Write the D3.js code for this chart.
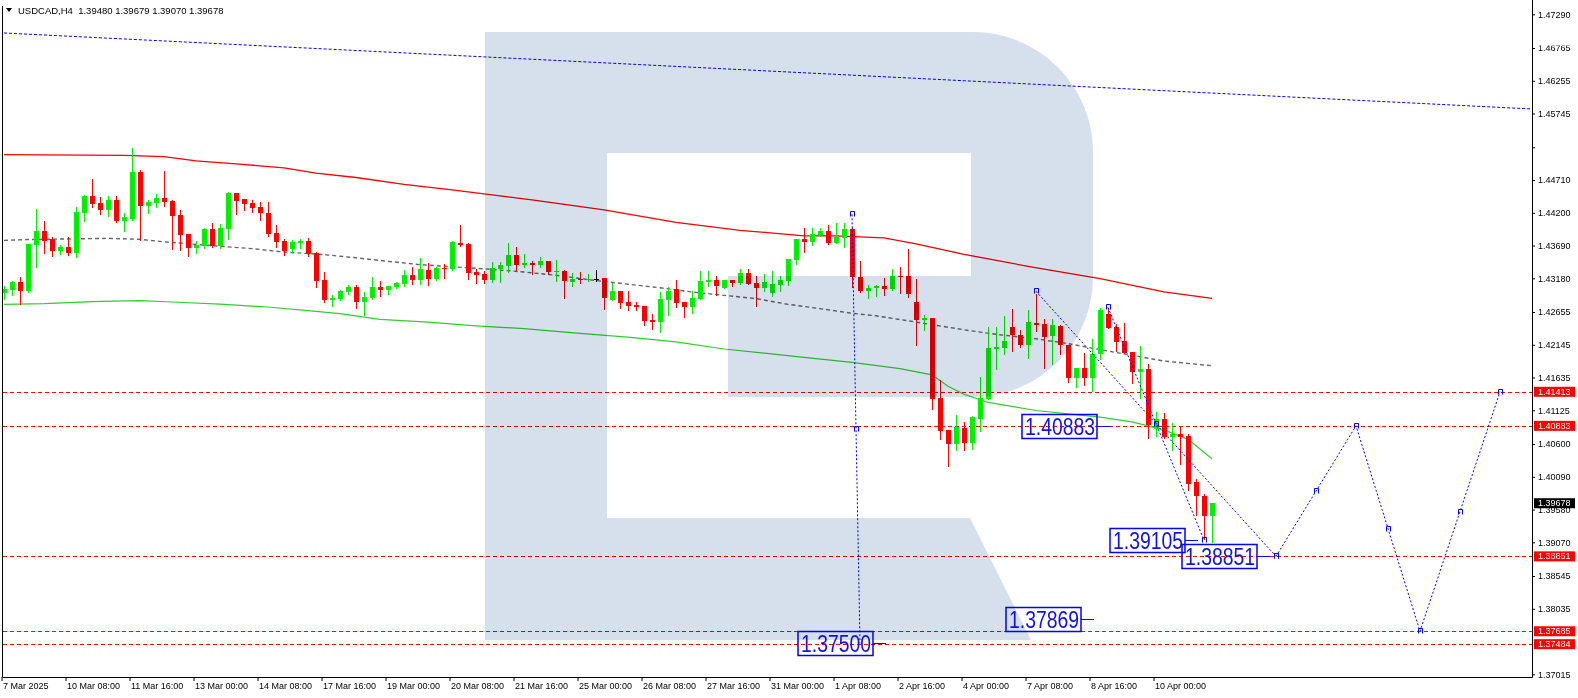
<!DOCTYPE html>
<html><head><meta charset="utf-8">
<script src="https://cdn.jsdelivr.net/npm/d3@7"></script>
<style>
html,body{margin:0;padding:0;background:#fff;overflow:hidden;}
svg{display:block;}
text{font-family:"Liberation Sans",Arial,sans-serif;}
</style></head><body>
<svg id="c" width="1578" height="698"></svg>
<script>
// ---------------- DATA ----------------
const symbolTitle = "USDCAD,H4";
const lastOHLC = [1.39480, 1.39679, 1.39070, 1.39678];

const opens = [1.42951,1.42993,1.43117,1.42977,1.43693,1.43911,1.43787,1.43605,1.43662,1.43574,
1.44197,1.44456,1.44347,1.44244,1.44394,1.44072,1.44098,1.44830,1.44306,1.44353,
1.44425,1.44384,1.44161,1.43865,1.43652,1.43683,1.43943,1.43683,1.43948,1.44503,
1.44410,1.44347,1.44285,1.44192,1.43880,1.43756,1.43636,1.43730,1.43756,1.43569,
1.43149,1.42842,1.42858,1.42962,1.43040,1.42806,1.42868,1.43040,1.42993,1.43040,
1.43086,1.43226,1.43149,1.43304,1.43164,1.43341,1.43325,1.43725,1.43709,1.43273,
1.43242,1.43148,1.43320,1.43377,1.43543,1.43382,1.43418,1.43382,1.43444,1.43278,
1.43294,1.43122,1.43174,1.43153,1.43169,1.43180,1.42842,1.42977,1.42806,1.42759,
1.42744,1.42526,1.42500,1.42837,1.43008,1.42806,1.42728,1.42853,1.43122,1.43148,
1.43029,1.43148,1.43107,1.43257,1.43102,1.43024,1.42946,1.43076,1.43133,1.43460,
1.43787,1.43745,1.43854,1.43911,1.43730,1.43813,1.43943,1.43195,1.42977,1.43034,
1.43055,1.43008,1.43211,1.43211,1.42811,1.42536,1.42562,1.41316,1.40813,1.40595,
1.40844,1.40621,1.40984,1.41296,1.42074,1.42095,1.42417,1.42292,1.42137,1.42490,
1.42463,1.42277,1.42432,1.42147,1.41628,1.41784,1.41628,1.42007,1.42629,1.42422,
1.42199,1.42027,1.41721,1.41763,1.40839,1.40995,1.40709,1.40761,1.40720,1.40008,
1.39785,1.39480];
const highs = [1.43055,1.43138,1.43195,1.43709,1.44254,1.44067,1.43818,1.43693,1.43818,1.44285,
1.44477,1.44721,1.44446,1.44456,1.44456,1.44192,1.45204,1.44861,1.44394,1.44498,
1.44846,1.44394,1.44238,1.43865,1.43756,1.43958,1.44036,1.44031,1.44524,1.44503,
1.44410,1.44394,1.44373,1.44363,1.44005,1.43787,1.43771,1.43787,1.43802,1.43585,
1.43273,1.42915,1.42993,1.43071,1.43071,1.42962,1.43195,1.43133,1.43055,1.43117,
1.43304,1.43351,1.43491,1.43413,1.43351,1.43398,1.43756,1.44005,1.43725,1.43320,
1.43289,1.43429,1.43434,1.43730,1.43662,1.43553,1.43444,1.43512,1.43444,1.43460,
1.43304,1.43263,1.43283,1.43242,1.43315,1.43180,1.43112,1.42977,1.42977,1.42806,
1.42744,1.42629,1.42962,1.43045,1.43148,1.42806,1.42977,1.43289,1.43289,1.43211,
1.43148,1.43148,1.43320,1.43320,1.43211,1.43242,1.43289,1.43211,1.43476,1.43797,
1.43958,1.43958,1.43958,1.44005,1.44036,1.44036,1.43958,1.43444,1.43071,1.43071,
1.43180,1.43320,1.43351,1.43642,1.43174,1.42604,1.42562,1.41592,1.40813,1.41047,
1.40943,1.41036,1.41643,1.42422,1.42422,1.42588,1.42697,1.42380,1.42681,1.42941,
1.42541,1.42541,1.42448,1.42147,1.41784,1.42017,1.42235,1.42718,1.42707,1.42474,
1.42484,1.42027,1.42121,1.41851,1.41099,1.41089,1.40932,1.40875,1.40761,1.40060,
1.39827,1.39679];
const lows = [1.42863,1.42920,1.42780,1.42967,1.43356,1.43574,1.43522,1.43553,1.43543,1.43512,
1.44072,1.44290,1.44176,1.44150,1.44052,1.43917,1.44083,1.43782,1.44197,1.44290,
1.44306,1.43636,1.43626,1.43527,1.43574,1.43657,1.43673,1.43657,1.43787,1.44176,
1.44244,1.44213,1.44083,1.43839,1.43662,1.43543,1.43585,1.43657,1.43533,1.43050,
1.42806,1.42744,1.42848,1.42936,1.42713,1.42604,1.42858,1.42899,1.42931,1.43024,
1.43055,1.43086,1.43086,1.43071,1.43149,1.43180,1.43304,1.43678,1.43164,1.43102,
1.43107,1.43117,1.43122,1.43283,1.43304,1.43356,1.43252,1.43356,1.43252,1.43133,
1.42868,1.43056,1.43107,1.43133,1.43138,1.42702,1.42837,1.42718,1.42681,1.42681,
1.42448,1.42391,1.42344,1.42609,1.42733,1.42577,1.42640,1.42853,1.43060,1.42915,
1.43029,1.43060,1.43086,1.43086,1.42749,1.42982,1.42905,1.42982,1.43076,1.43403,
1.43584,1.43699,1.43839,1.43714,1.43730,1.43667,1.43045,1.42967,1.42873,1.42905,
1.42915,1.42993,1.42951,1.42889,1.42136,1.42370,1.41150,1.40673,1.40253,1.40502,
1.40502,1.40528,1.40797,1.41296,1.41773,1.42007,1.42048,1.42111,1.41939,1.42354,
1.41784,1.41841,1.42007,1.41566,1.41488,1.41524,1.41420,1.41929,1.42406,1.42048,
1.42017,1.41550,1.41316,1.40694,1.40725,1.40699,1.40502,1.40294,1.39879,1.39500,
1.39126,1.39070];
const closes = [1.43008,1.43117,1.42977,1.43709,1.43911,1.43761,1.43605,1.43662,1.43574,1.44207,
1.44456,1.44337,1.44244,1.44394,1.44072,1.44129,1.44830,1.44306,1.44368,1.44425,
1.44368,1.44150,1.43849,1.43652,1.43693,1.43943,1.43683,1.43958,1.44503,1.44384,
1.44337,1.44275,1.44197,1.43865,1.43745,1.43605,1.43740,1.43756,1.43559,1.43138,
1.42837,1.42868,1.42977,1.43040,1.42806,1.42884,1.43040,1.42993,1.43055,1.43102,
1.43226,1.43149,1.43320,1.43164,1.43335,1.43325,1.43740,1.43693,1.43258,1.43232,
1.43148,1.43335,1.43382,1.43543,1.43382,1.43413,1.43387,1.43444,1.43283,1.43289,
1.43138,1.43169,1.43148,1.43174,1.43169,1.42868,1.42977,1.42796,1.42744,1.42733,
1.42515,1.42500,1.42853,1.42977,1.42796,1.42728,1.42868,1.43133,1.43148,1.43060,
1.43148,1.43107,1.43257,1.43091,1.43024,1.43117,1.43091,1.43148,1.43476,1.43787,
1.43745,1.43870,1.43911,1.43730,1.43823,1.43943,1.43200,1.42977,1.43034,1.43060,
1.43008,1.43211,1.43195,1.42941,1.42526,1.42557,1.41296,1.40797,1.40595,1.40865,
1.40621,1.41021,1.41316,1.42095,1.42111,1.42199,1.42292,1.42137,1.42495,1.42448,
1.42266,1.42448,1.42147,1.41628,1.41784,1.41628,1.42007,1.42681,1.42406,1.42188,
1.42017,1.41721,1.41763,1.40891,1.40995,1.40709,1.40761,1.40709,1.39983,1.39785,
1.39479,1.39678];

// moving averages (sampled by bar index)
const redMaIdx = [0,15,20,24,29,35,39,44,50,56,66,75,84,92,100,104,110,114,120,128,137,145,151];
const redMaVal = [1.45106,1.45095,1.45075,1.45009,1.44962,1.44900,1.44818,1.44749,1.44643,1.44558,1.44402,1.44246,1.44052,1.43927,1.43841,1.43841,1.43810,1.43717,1.43553,1.43367,1.43175,1.42970,1.42869];
const greenMaIdx = [0,5,12,17,21,27,33,38,42,47,53,59,65,72,78,84,90,100,106,112,116,118,120,123,129,133,137,141,145,148,151];
const greenMaVal = [1.42775,1.42786,1.42822,1.42833,1.42811,1.42778,1.42733,1.42677,1.42630,1.42541,1.42498,1.42440,1.42397,1.42324,1.42264,1.42191,1.42079,1.41950,1.41872,1.41774,1.41677,1.41498,1.41374,1.41249,1.41122,1.41070,1.41020,1.40946,1.40821,1.40673,1.40370];
const greyMaIdx = [0,3,13,17,20,27,31,35,40,44,48,52,56,60,65,69,73,77,82,86,90,94,98,102,106,109,114,120,124,129,133,137,141,145,151];
const greyMaVal = [1.43771,1.43784,1.43802,1.43787,1.43748,1.43678,1.43642,1.43589,1.43549,1.43499,1.43444,1.43393,1.43359,1.43328,1.43278,1.43227,1.43160,1.43102,1.43032,1.42967,1.42915,1.42864,1.42775,1.42708,1.42635,1.42596,1.42499,1.42378,1.42308,1.42238,1.42163,1.42070,1.41981,1.41892,1.41818];

// horizontal levels and current price
const levels = [1.41413, 1.40883, 1.38851, 1.37685, 1.37484];
const currentPrice = 1.39678;

// drawn lines (bar index, price)
const trendLine = [[0,1.46999],[191,1.45816]];
const verticalLine = [[106,1.44176],[106.5,1.40838],[107,1.37500]];
const path1 = [[138,1.42728],[144,1.40917],[150,1.39105]];
const path2 = [[129,1.42977],[144,1.40914],[159,1.38851]];
const forecast = [[159,1.38851],[164,1.39867],[169,1.40883],[173,1.39284],[177,1.37685],[182,1.39549],[187,1.41413]];

// price labels (value, anchor bar index)
const labelValues = [1.40883, 1.39105, 1.38851, 1.37869, 1.37500];
const labelIdx = [139, 150, 159, 137, 111];

// axes
const priceTicks = [1.47290,1.46765,1.46255,1.45745,1.45220,1.44710,1.44200,1.43690,1.43180,1.42655,1.42145,1.41635,1.41125,1.40600,1.40090,1.39580,1.39070,1.38545,1.38035,1.37015];
const hiddenPriceLabels = [1.45220];
const timeIdx = [0,8,16,24,32,40,48,56,64,72,80,88,96,104,112,120,128,136,144];
const timeLabels = ["7 Mar 2025","10 Mar 08:00","11 Mar 16:00","13 Mar 00:00","14 Mar 08:00","17 Mar 16:00","19 Mar 00:00","20 Mar 08:00","21 Mar 16:00","25 Mar 00:00","26 Mar 08:00","27 Mar 16:00","31 Mar 00:00","1 Apr 08:00","2 Apr 16:00","4 Apr 00:00","7 Apr 08:00","8 Apr 16:00","10 Apr 00:00"];

// ---------------- DRAW ----------------
const W = 1578, H = 698;
const plotL = 2.5, plotR = 1532.5, plotB = 677.5;
const svg = d3.select("#c");
const x = d3.scaleLinear().domain([0,191]).range([4,1532]);
const y = d3.scaleLinear().domain([1.37015,1.47290]).range([674.3,14.3]);

svg.append("rect").attr("width",W).attr("height",H).attr("fill","#fff");
svg.append("defs").append("clipPath").attr("id","plot")
  .append("rect").attr("x",3).attr("y",0).attr("width",1529).attr("height",677);
const g = svg.append("g").attr("clip-path","url(#plot)");

const blue = "#0000ff";
const line = d3.line().x(d=>x(d[0])).y(d=>y(d[1]));

// trend line (top)
g.append("path").attr("d", line(trendLine)).attr("fill","none")
  .attr("stroke",blue).attr("stroke-width",1).attr("stroke-dasharray","3,2");

// level lines
g.selectAll("line.lvl").data(levels).join("line").attr("class","lvl")
  .attr("x1",3).attr("x2",1532)
  .attr("y1",d=>Math.round(y(d))+0.5).attr("y2",d=>Math.round(y(d))+0.5)
  .attr("stroke","#ff0000").attr("stroke-width",1).attr("stroke-dasharray","4,3");

// moving averages
g.append("path").attr("d", line(d3.zip(redMaIdx, redMaVal))).attr("fill","none")
  .attr("stroke","#ff0000").attr("stroke-width",1.3);
g.append("path").attr("d", line(d3.zip(greenMaIdx, greenMaVal))).attr("fill","none")
  .attr("stroke","#32cd32").attr("stroke-width",1.2);
g.append("path").attr("d", line(d3.zip(greyMaIdx, greyMaVal))).attr("fill","none")
  .attr("stroke","#666666").attr("stroke-width",1.4).attr("stroke-dasharray","4,3");

// candles
const bars = d3.range(opens.length).map(i=>({i,o:opens[i],h:highs[i],l:lows[i],c:closes[i]}));
const col = d => d.o===d.c ? "#000000" : (d.c>d.o ? "#00f000" : "#ff0000");
const cg = g.append("g");
cg.selectAll("line").data(bars).join("line")
  .attr("x1",d=>x(d.i)+0.5).attr("x2",d=>x(d.i)+0.5)
  .attr("y1",d=>Math.round(y(d.h))).attr("y2",d=>Math.round(y(d.l))+1)
  .attr("stroke",col).attr("stroke-width",1);
cg.selectAll("rect").data(bars).join("rect")
  .attr("x",d=>x(d.i)-2).attr("width",5)
  .attr("y",d=>Math.round(y(Math.max(d.o,d.c))))
  .attr("height",d=>Math.max(1, Math.round(y(Math.min(d.o,d.c)))-Math.round(y(Math.max(d.o,d.c)))))
  .attr("fill",col);

// blue dotted objects
[verticalLine, path1, path2, forecast].forEach(p=>{
  g.append("path").attr("d", line(p)).attr("fill","none")
    .attr("stroke",blue).attr("stroke-width",1).attr("stroke-dasharray","2,2");
});
const markerPts = [verticalLine[0], verticalLine[1], path1[0], path1[1], path1[2], path2[0], path2[2]].concat(forecast);
g.selectAll("path.mk").data(markerPts).join("path").attr("class","mk")
  .attr("d",d=>{const px=Math.round(x(d[0]))-1.5, py=Math.round(y(d[1]))-2.5; return `M${px},${py+5}V${py}H${px+4}V${py+5}`;})
  .attr("fill","none").attr("stroke",blue).attr("stroke-width",1);

// labels
const labels = d3.zip(labelValues, labelIdx);
const lg = g.selectAll("g.lab").data(labels).join("g").attr("class","lab");
lg.append("line")
  .attr("x1",d=>x(d[1])-19).attr("x2",d=>x(d[1])-6)
  .attr("y1",d=>Math.round(y(d[0]))+0.5).attr("y2",d=>Math.round(y(d[0]))+0.5)
  .attr("stroke",blue).attr("stroke-width",1);
lg.append("rect")
  .attr("x",d=>x(d[1])-94).attr("y",d=>Math.round(y(d[0]))-11.5)
  .attr("width",75).attr("height",24)
  .attr("fill","none").attr("stroke",blue).attr("stroke-width",1.5);
lg.append("text")
  .attr("x",d=>x(d[1])-91).attr("y",d=>Math.round(y(d[0]))+9)
  .attr("font-size",23).attr("fill","#1010f0")
  .attr("textLength",70).attr("lengthAdjust","spacingAndGlyphs")
  .text(d=>d[0].toFixed(5));

// watermark logo (multiply blend)
const logo = svg.append("g").style("mix-blend-mode","multiply").attr("fill","#d6e0ec");
logo.append("rect").attr("x",485).attr("y",32).attr("width",122).attr("height",608);
logo.append("path").attr("d","M607,32 H973 A120,120 0 0 1 1093,152 V277 A120,120 0 0 1 973,397 H728 V276 H971 V153 H607 Z");
logo.append("path").attr("d","M607,518 H970 L1031,640 H607 Z");

// frame
svg.append("line").attr("x1",plotL).attr("x2",plotL).attr("y1",6).attr("y2",plotB).attr("stroke","#000");
svg.append("line").attr("x1",plotL).attr("x2",plotR).attr("y1",plotB).attr("y2",plotB).attr("stroke","#000");
svg.append("line").attr("x1",plotR).attr("x2",plotR).attr("y1",0).attr("y2",plotB).attr("stroke","#000");

// right price axis
const yAxis = d3.axisRight(y).tickValues(priceTicks).tickSize(3).tickPadding(3)
  .tickFormat(d => hiddenPriceLabels.includes(d) ? "" : d.toFixed(5));
const ya = svg.append("g").attr("transform","translate(1532,0)").call(yAxis);
ya.select(".domain").remove();
ya.attr("font-family","Liberation Sans, Arial, sans-serif").attr("font-size",9);
ya.selectAll("text").attr("fill","#000");
// partially covered label near top
svg.append("rect").attr("x",1536).attr("y",40).attr("width",42).attr("height",5.5).attr("fill","#fff");

// level price tags
const tags = svg.selectAll("g.tag").data(levels.map(v=>[v,"#ff0000"]).concat([[currentPrice,"#000000"]])).join("g").attr("class","tag");
tags.append("rect").attr("x",1534).attr("y",d=>y(d[0])-5).attr("width",41).attr("height",10).attr("fill",d=>d[1]);
tags.append("text").attr("x",1538).attr("y",d=>y(d[0])).attr("dy","0.34em")
  .attr("font-size",9).attr("fill","#fff").text(d=>d[0].toFixed(5));

// bottom time axis
const xAxis = d3.axisBottom(x).tickValues(timeIdx).tickSize(4)
  .tickFormat((d,i)=>timeLabels[i]);
const xa = svg.append("g").attr("transform","translate(-2.5,677)").call(xAxis);
xa.select(".domain").remove();
xa.attr("font-family","Liberation Sans, Arial, sans-serif").attr("font-size",9);
xa.selectAll("text").attr("text-anchor","start").attr("x",1).attr("y",6).attr("dy","0.71em").attr("fill","#000");

// header
svg.append("path").attr("d","M6,8 L12,8 L9,12 Z").attr("fill","#000");
svg.append("text").attr("x",18).attr("y",13.5).attr("font-size",9.5).attr("fill","#000")
  .style("white-space","pre")
  .text(symbolTitle + "  " + lastOHLC.map(v=>v.toFixed(5)).join(" "));
</script>
</body></html>
